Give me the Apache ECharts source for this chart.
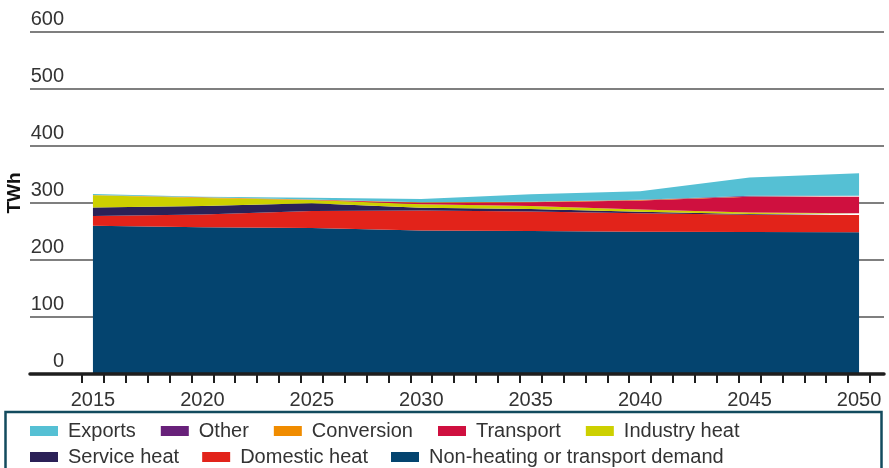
<!DOCTYPE html>
<html><head><meta charset="utf-8">
<script src="https://cdn.jsdelivr.net/npm/echarts@6/dist/echarts.min.js"></script>
<style>html,body{margin:0;padding:0;background:#fff}#c{width:889px;height:468px}</style>
</head><body><div id="c"></div>
<script>
// ---- data (TWh) ----
const years = [2015, 2020, 2025, 2030, 2035, 2040, 2045, 2050];
const nonHeating   = [260.2, 257.4, 256.0, 251.8, 250.9, 249.6, 249.1, 248.6];
const domesticHeat = [17.0, 22.4, 30.0, 35.0, 34.2, 32.3, 30.2, 30.4];
const serviceHeat  = [15.0, 15.0, 13.5, 5.0, 4.4, 2.8, 1.4, 2.2];
const industryHeat = [21.4, 14.1, 5.8, 5.9, 5.2, 3.9, 2.6, 0.7];
const transport    = [0.0, 0.0, 0.3, 2.8, 6.5, 15.8, 27.7, 29.1];
const conversion   = [0.5, 1.0, 0.5, 0.8, 0.8, 0.8, 0.3, 0.3];
const other        = [0.0, 0.0, 0.0, 0.0, 0.0, 0.3, 1.5, 1.5];
const exportsV     = [1.7, 1.0, 3.2, 5.7, 13.3, 15.0, 31.9, 39.3];
const axisYears = ['2015','2016','2017','2018','2019','2020','2021','2022','2023','2024','2025','2026','2027','2028','2029','2030','2031','2032','2033','2034','2035','2036','2037','2038','2039','2040','2041','2042','2043','2044','2045','2046','2047','2048','2049','2050'];
const legendRow1 = ['Exports', 'Other', 'Conversion', 'Transport', 'Industry heat'];
const legendRow2 = ['Service heat', 'Domestic heat', 'Non-heating or transport demand'];

const FONT = 'Liberation Sans, Arial, sans-serif';
const seriesDefs = [
  ['Non-heating or transport demand', nonHeating, '#04446f'],
  ['Domestic heat', domesticHeat, '#e2231a'],
  ['Service heat', serviceHeat, '#2b2157'],
  ['Industry heat', industryHeat, '#cdd000'],
  ['Transport', transport, '#cf103f'],
  ['Conversion', conversion, '#f08c00'],
  ['Other', other, '#68217a'],
  ['Exports', exportsV, '#55c0d4']
];

const series = seriesDefs.map(([name, vals, color]) => ({
  name, type: 'line', stack: 'total',
  xAxisIndex: 1, yAxisIndex: 1,
  symbol: 'none', showSymbol: false, smooth: false,
  color: color,
  itemStyle: { color: color },
  lineStyle: { width: 0, color: color },
  areaStyle: { color: color, opacity: 1 },
  emphasis: { disabled: true },
  data: years.map((y, i) => [String(y), vals[i]])
}));

const legendCommon = {
  left: 30, orient: 'horizontal', icon: 'rect', padding: 0,
  itemWidth: 28, itemHeight: 10, selectedMode: false,
  itemStyle: { borderWidth: 0 },
  textStyle: { fontSize: 20, color: '#333', fontFamily: FONT, padding: [0, 0, 0, 5] }
};

const chart = echarts.init(document.getElementById('c'), null, { renderer: 'canvas' });
chart.setOption({
  animation: false,
  backgroundColor: '#fff',
  textStyle: { fontFamily: FONT },
  grid: [
    { left: 30, right: 5, top: 32, bottom: 94 },
    { left: 82, right: 19, top: 32, bottom: 94 }
  ],
  xAxis: [
    { gridIndex: 0, type: 'value', min: 0, max: 1, z: 5,
      axisLine: { show: true, onZero: false, lineStyle: { color: '#1e1e1e', width: 3.5 } },
      axisTick: { show: false }, axisLabel: { show: false }, splitLine: { show: false } },
    { gridIndex: 1, type: 'category', data: axisYears, boundaryGap: true, z: 5,
      axisLine: { show: false },
      axisTick: { show: true, interval: 0, length: 9, lineStyle: { color: '#1e1e1e', width: 2 } },
      axisLabel: { interval: 4, margin: 16, color: '#333', fontSize: 20, fontFamily: FONT },
      splitLine: { show: false } }
  ],
  yAxis: [
    { gridIndex: 0, type: 'value', min: 0, max: 600, interval: 100,
      axisLine: { show: false }, axisTick: { show: false },
      splitLine: { show: true, lineStyle: { color: '#555', width: 1.5 } },
      axisLabel: { inside: true, align: 'right', margin: 34, verticalAlign: 'bottom',
        padding: [0, 0, 3, 0], color: '#333', fontSize: 20, fontFamily: FONT } },
    { gridIndex: 1, type: 'value', min: 0, max: 600, show: false }
  ],
  legend: [
    Object.assign({}, legendCommon, { top: 421, itemGap: 25, data: legendRow1 }),
    Object.assign({}, legendCommon, { top: 447, itemGap: 23, data: legendRow2 })
  ],
  graphic: [
    { type: 'rect', z: 10, silent: true,
      shape: { x: 5.5, y: 412, width: 876, height: 100 },
      style: { fill: 'none', stroke: '#134b5e', lineWidth: 2.5 } },
    { type: 'text', z: 10, silent: true, x: 15, y: 193, rotation: Math.PI / 2,
      style: { text: 'TWh', font: 'bold 19px Liberation Sans, Arial, sans-serif', fill: '#111',
        align: 'center', verticalAlign: 'middle' } }
  ],
  series: series
});
</script></body></html>
